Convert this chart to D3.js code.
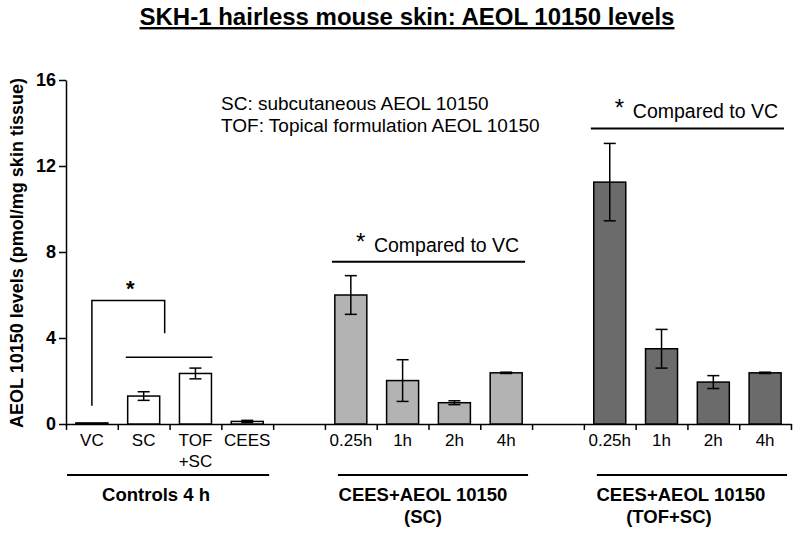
<!DOCTYPE html>
<html>
<head>
<meta charset="utf-8">
<script src="https://cdn.jsdelivr.net/npm/d3@7"></script>
<style>
  body { margin: 0; background: #fff; }
  svg { font-family: "Liberation Sans", Arial, sans-serif; }
</style>
</head>
<body>
<div id="chart"></div>
<script>
var width = 800,
    height = 535;

// slots along the x axis (gaps are empty slots)
var slots = ["VC", "SC", "TOF+SC", "CEES", "gap1",
             "SC_0.25h", "SC_1h", "SC_2h", "SC_4h", "gap2",
             "TOF_0.25h", "TOF_1h", "TOF_2h", "TOF_4h"];
var barSlots = ["VC", "SC", "TOF+SC", "CEES",
                "SC_0.25h", "SC_1h", "SC_2h", "SC_4h",
                "TOF_0.25h", "TOF_1h", "TOF_2h", "TOF_4h"];
var tickLabels = [["VC"], ["SC"], ["TOF", "+SC"], ["CEES"],
                  ["0.25h"], ["1h"], ["2h"], ["4h"],
                  ["0.25h"], ["1h"], ["2h"], ["4h"]];
var values = [0.05, 1.3, 2.35, 0.12, 6.0, 2.02, 0.99, 2.38, 11.25, 3.5, 1.95, 2.38];
var errors = [0.0, 0.2, 0.25, 0.05, 0.9, 0.97, 0.09, 0.03, 1.8, 0.9, 0.3, 0.03];
var fills = ["#ffffff", "#ffffff", "#ffffff", "#ffffff",
             "#b3b3b3", "#b3b3b3", "#b3b3b3", "#b3b3b3",
             "#6b6b6b", "#6b6b6b", "#6b6b6b", "#6b6b6b"];
var yTicks = [0, 4, 8, 12, 16];
var groups = [
  { first: "VC", last: "CEES", lines: ["Controls 4 h"] },
  { first: "SC_0.25h", last: "SC_4h", lines: ["CEES+AEOL 10150", "(SC)"] },
  { first: "TOF_0.25h", last: "TOF_4h", lines: ["CEES+AEOL 10150", "(TOF+SC)"] }
];

var margin = { left: 66, right: 9, top: 80, bottom: 111 };
var plotW = width - margin.left - margin.right,
    plotH = height - margin.top - margin.bottom;

var svg = d3.select("#chart").append("svg")
    .attr("width", width)
    .attr("height", height);

var g = svg.append("g")
    .attr("transform", "translate(" + margin.left + "," + margin.top + ")");

var x = d3.scaleBand()
    .domain(slots)
    .range([0, plotW])
    .padding(0);

var xEdge = d3.scaleLinear()
    .domain([0, slots.length])
    .range([0, plotW]);

var y = d3.scaleLinear()
    .domain([0, 16])
    .range([plotH, 0]);

var barW = 32;

// y axis
var yAxis = g.append("g")
    .call(d3.axisLeft(y).tickValues(yTicks).tickSize(7).tickPadding(3).tickSizeOuter(0));
yAxis.select(".domain").attr("stroke-width", 1.5);
yAxis.selectAll(".tick line").attr("stroke-width", 1.5);
yAxis.selectAll("text")
    .attr("font-size", 18)
    .attr("font-weight", "bold")
    .attr("fill", "#000");

// x axis with ticks on slot boundaries
var xAxis = g.append("g")
    .attr("transform", "translate(0," + plotH + ")")
    .call(d3.axisBottom(xEdge).tickValues(d3.range(slots.length + 1)).tickSize(6).tickSizeOuter(0).tickFormat(""));
xAxis.select(".domain").attr("stroke-width", 1.5);
xAxis.selectAll(".tick line").attr("stroke-width", 1.5);

// bars
g.selectAll("rect.bar")
  .data(barSlots)
  .enter()
  .append("rect")
  .attr("class", "bar")
  .attr("x", function(d) { return x(d) + (x.bandwidth() - barW) / 2; })
  .attr("y", function(d, i) { return y(values[i]); })
  .attr("width", barW)
  .attr("height", function(d, i) { return plotH - y(values[i]); })
  .attr("fill", function(d, i) { return fills[i]; })
  .attr("stroke", "#000")
  .attr("stroke-width", 1.5);

// error bars
var eb = g.selectAll("g.err")
  .data(barSlots)
  .enter()
  .append("g")
  .attr("class", "err")
  .filter(function(d, i) { return errors[i] > 0; });

eb.append("line")
  .attr("x1", function(d) { return x(d) + x.bandwidth() / 2; })
  .attr("x2", function(d) { return x(d) + x.bandwidth() / 2; })
  .attr("y1", function(d) { var i = barSlots.indexOf(d); return y(values[i] + errors[i]); })
  .attr("y2", function(d) { var i = barSlots.indexOf(d); return y(values[i] - errors[i]); })
  .attr("stroke", "#000").attr("stroke-width", 1.5);

[1, -1].forEach(function(s) {
  eb.append("line")
    .attr("x1", function(d) { return x(d) + x.bandwidth() / 2 - 6; })
    .attr("x2", function(d) { return x(d) + x.bandwidth() / 2 + 6; })
    .attr("y1", function(d) { var i = barSlots.indexOf(d); return y(values[i] + s * errors[i]); })
    .attr("y2", function(d) { var i = barSlots.indexOf(d); return y(values[i] + s * errors[i]); })
    .attr("stroke", "#000").attr("stroke-width", 1.5);
});

// x tick labels
barSlots.forEach(function(d, i) {
  var t = g.append("text")
    .attr("x", x(d) + x.bandwidth() / 2)
    .attr("y", plotH + 22)
    .attr("text-anchor", "middle")
    .attr("font-size", 17)
    .attr("fill", "#000");
  tickLabels[i].forEach(function(l, j) {
    t.append("tspan")
      .attr("x", x(d) + x.bandwidth() / 2)
      .attr("dy", j === 0 ? 0 : 21)
      .text(l);
  });
});

// group lines and labels (labels sit a bit left of the line centre)
var labelShift = [[-12], [-10, -10], [-11, -23]];
groups.forEach(function(grp, gi) {
  var x0 = x(grp.first), x1 = x(grp.last) + x.bandwidth();
  var x0l = grp.first === "VC" ? x0 + 1 : x0 + 13;
  var x1l = x1 - 4;
  g.append("line")
    .attr("x1", x0l).attr("x2", x1l)
    .attr("y1", plotH + 51).attr("y2", plotH + 51)
    .attr("stroke", "#000").attr("stroke-width", 2);
  grp.lines.forEach(function(l, j) {
    g.append("text")
      .attr("x", (x0l + x1l) / 2 + labelShift[gi][j])
      .attr("y", plotH + 77 + j * 22)
      .attr("text-anchor", "middle")
      .attr("font-size", 18.5)
      .attr("font-weight", "bold")
      .attr("fill", "#000")
      .text(l);
  });
});

// significance bracket in controls
var cVC = x("VC") + x.bandwidth() / 2,
    cSC = x("SC") + x.bandwidth() / 2;
g.append("path")
  .attr("d", "M" + cVC + "," + y(0.85) + "V" + y(5.75) + "H" + (cSC + 21) + "V" + y(4.22))
  .attr("fill", "none")
  .attr("stroke", "#000")
  .attr("stroke-width", 1.5);
g.append("text")
  .attr("x", (cVC + cSC + 21) / 2 + 2)
  .attr("y", y(5.75) - 4)
  .attr("text-anchor", "middle")
  .attr("font-size", 22)
  .attr("font-weight", "bold")
  .attr("fill", "#000")
  .text("*");
g.append("line")
  .attr("x1", x("SC") + 8).attr("x2", x("TOF+SC") + x.bandwidth() + 43 - 52)
  .attr("y1", y(3.1)).attr("y2", y(3.1))
  .attr("stroke", "#000").attr("stroke-width", 1.5);

// "Compared to VC" annotations
[{ first: "SC_0.25h", last: "SC_4h", v: 7.55 }, { first: "TOF_0.25h", last: "TOF_4h", v: 13.75 }].forEach(function(a) {
  var x0 = x(a.first) + 7, x1 = x(a.last) + x.bandwidth() - 7;
  g.append("line")
    .attr("x1", x0).attr("x2", x1)
    .attr("y1", y(a.v)).attr("y2", y(a.v))
    .attr("stroke", "#000").attr("stroke-width", 2);
  g.append("text")
    .attr("x", x0 + 24)
    .attr("y", y(a.v) - 12)
    .attr("font-size", 24)
    .attr("fill", "#000")
    .text("*");
  g.append("text")
    .attr("x", x0 + 42)
    .attr("y", y(a.v) - 10)
    .attr("font-size", 19.5)
    .attr("fill", "#000")
    .text("Compared to VC");
});

// legend text
svg.append("text")
  .attr("x", 221).attr("y", 110)
  .attr("font-size", 19).attr("fill", "#000")
  .text("SC: subcutaneous AEOL 10150");
svg.append("text")
  .attr("x", 221).attr("y", 132)
  .attr("font-size", 19).attr("fill", "#000")
  .text("TOF: Topical formulation AEOL 10150");

// title
svg.append("text")
  .attr("x", 407).attr("y", 25)
  .attr("text-anchor", "middle")
  .attr("font-size", 24)
  .attr("font-weight", "bold")
  .attr("text-decoration", "underline")
  .attr("fill", "#000")
  .text("SKH-1 hairless mouse skin: AEOL 10150 levels");

// y axis title
svg.append("text")
  .attr("transform", "translate(23," + (margin.top + plotH / 2 + 1) + ") rotate(-90)")
  .attr("text-anchor", "middle")
  .attr("font-size", 18)
  .attr("font-weight", "bold")
  .attr("fill", "#000")
  .text("AEOL 10150 levels (pmol/mg skin tissue)");
</script>
</body>
</html>
